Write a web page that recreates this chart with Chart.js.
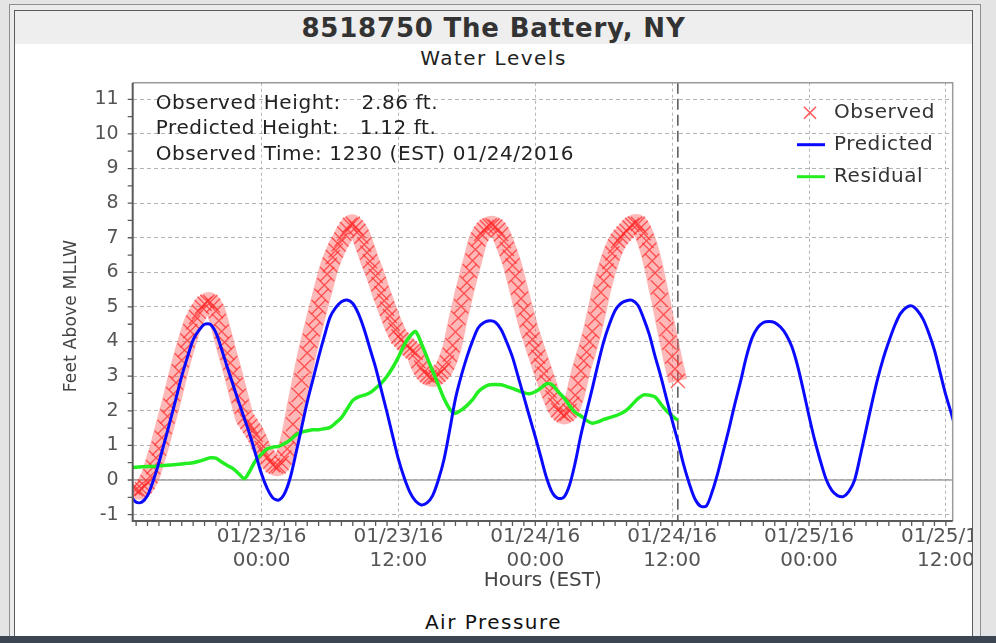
<!DOCTYPE html>
<html>
<head>
<meta charset="utf-8">
<title>8518750 The Battery, NY - Water Levels</title>
<script src="https://cdn.jsdelivr.net/npm/chart.js@4/dist/chart.umd.min.js"></script>
<style>
  html, body { margin: 0; padding: 0; }
  body {
    width: 996px; height: 643px; position: relative; overflow: hidden;
    background: #e4e4e4; font-family: 'DejaVu Sans', sans-serif;
  }
  #frame { position: absolute; left: 9px; top: 4px; width: 972px; height: 645px;
           border: 1px solid #8e8e8e; background: #ebebeb; box-sizing: border-box; }
  #panel { position: absolute; left: 14px; top: 10px; width: 959px; height: 627px;
           border: 1px solid #5c5c5c; background: #fff; box-sizing: border-box; }
  #titleBand { position: absolute; left: 15px; top: 11px; width: 957px; height: 33px; background: #eeeeee; }
  .txt { position: absolute; left: 15px; width: 957px; text-align: center; white-space: nowrap; }
  #title { top: 11px; height: 34px; line-height: 34px; font-size: 26px; font-weight: bold;
           letter-spacing: 0.8px; color: #333; }
  #subtitle { top: 46px; line-height: 24px; font-size: 20px; letter-spacing: 1.5px; color: #222; }
  #nextTitle { top: 610px; line-height: 24px; font-size: 20px; letter-spacing: 1.5px; color: #111; }
  #bottomBar { position: absolute; left: 0; top: 636px; width: 996px; height: 7px; background: #3c4552; }
  #chartBox { position: absolute; left: 0; top: 0; width: 972px; height: 600px; }
</style>
</head>
<body>
<div id="frame"></div>
<div id="panel"></div>
<div id="titleBand"></div>
<div class="txt" id="title">8518750 The Battery, NY</div>
<div class="txt" id="subtitle">Water Levels</div>
<div class="txt" id="nextTitle">Air Pressure</div>
<div id="bottomBar"></div>
<div id="chartBox"><canvas id="wl" width="972" height="600"></canvas></div>

<script>
// hours are counted from 01/23/16 00:00 EST
const xTickHours = [0, 12, 24, 36, 48, 60];
const xTickLabels = [
  ['01/23/16', '00:00'], ['01/23/16', '12:00'], ['01/24/16', '00:00'],
  ['01/24/16', '12:00'], ['01/25/16', '00:00'], ['01/25/16', '12:00']
];
const yTicks = [-1, 0, 1, 2, 3, 4, 5, 6, 7, 8, 9, 10, 11];

const nowHour = 36.5; // 1230 EST 01/24/2016
const infoLines = [
  'Observed Height:   2.86 ft.',
  'Predicted Height:   1.12 ft.',
  'Observed Time: 1230 (EST) 01/24/2016'
];

// predicted tide, every 30 min from hour -12
const predStart = -12, predStep = 0.5;
const predicted = [
  -0.15, -0.45, -0.64, -0.64, -0.45, -0.02, 0.50, 1.11, 1.72, 2.36,
  3.00, 3.55, 4.05, 4.32, 4.50, 4.50, 4.25, 3.77, 3.25, 2.75,
  2.25, 1.77, 1.28, 0.72, 0.17, -0.25, -0.52, -0.58, -0.40, 0.05,
  0.75, 1.50, 2.25, 2.90, 3.55, 4.15, 4.70, 4.98, 5.15, 5.20,
  5.10, 4.80, 4.35, 3.80, 3.25, 2.60, 1.95, 1.27, 0.60, 0.07,
  -0.35, -0.61, -0.72, -0.66, -0.45, 0.00, 0.60, 1.45, 2.35, 3.00,
  3.55, 4.02, 4.40, 4.55, 4.60, 4.56, 4.35, 3.98, 3.55, 2.98,
  2.40, 1.82, 1.25, 0.65, 0.05, -0.37, -0.53, -0.50, -0.15, 0.50,
  1.30, 1.98, 2.65, 3.35, 4.00, 4.50, 4.90, 5.10, 5.18, 5.19,
  5.05, 4.67, 4.20, 3.58, 3.00, 2.36, 1.72, 1.12, 0.45, -0.10,
  -0.55, -0.76, -0.75, -0.35, 0.20, 0.85, 1.50, 2.20, 2.85, 3.55,
  4.10, 4.40, 4.55, 4.58, 4.55, 4.42, 4.20, 3.85, 3.30, 2.60,
  1.85, 1.15, 0.55, 0.02, -0.30, -0.45, -0.48, -0.33, 0.00, 0.70,
  1.45, 2.20, 2.90, 3.50, 4.00, 4.45, 4.80, 4.98, 5.03, 4.90,
  4.65, 4.25, 3.75, 3.10, 2.45, 1.90, 1.30
];

// residual, every 30 min from hour -11.5
const resStart = -11.5, resStep = 0.5;
const residual = [
  0.36, 0.37, 0.38, 0.39, 0.39, 0.41, 0.42, 0.43, 0.45, 0.46,
  0.48, 0.50, 0.54, 0.59, 0.64, 0.63, 0.52, 0.42, 0.33, 0.18,
  0.04, 0.28, 0.58, 0.75, 0.90, 0.95, 0.97, 1.05, 1.15, 1.30,
  1.38, 1.42, 1.45, 1.45, 1.48, 1.52, 1.65, 1.80, 2.05, 2.30,
  2.40, 2.45, 2.52, 2.65, 2.80, 3.00, 3.25, 3.55, 3.90, 4.15,
  4.29, 3.95, 3.55, 3.15, 2.75, 2.35, 2.05, 1.93, 2.02, 2.15,
  2.32, 2.55, 2.68, 2.75, 2.76, 2.75, 2.70, 2.65, 2.58, 2.52,
  2.49, 2.55, 2.66, 2.78, 2.75, 2.55, 2.38, 2.15, 1.95, 1.85,
  1.72, 1.64, 1.68, 1.75, 1.80, 1.85, 1.92, 2.02, 2.18, 2.35,
  2.46, 2.45, 2.40, 2.20, 2.00, 1.85, 1.73
];

// observed water level, every 15 min from hour -11.25
const obsStart = -11.25, obsStep = 0.25;
const observed = [
  -0.22, -0.27, -0.30, -0.26, -0.18, -0.06, 0.11, 0.37, 0.64, 0.91,
  1.22, 1.53, 1.84, 2.15, 2.48, 2.81, 3.14, 3.46, 3.75, 4.03,
  4.30, 4.55, 4.71, 4.86, 5.00, 5.09, 5.15, 5.14, 5.04, 4.88,
  4.60, 4.29, 3.98, 3.67, 3.38, 3.08, 2.76, 2.43, 2.12, 1.81,
  1.68, 1.56, 1.43, 1.30, 1.11, 0.92, 0.77, 0.65, 0.53, 0.43,
  0.39, 0.39, 0.49, 0.65, 0.90, 1.20, 1.61, 2.05, 2.46, 2.88,
  3.28, 3.67, 4.02, 4.35, 4.68, 5.00, 5.32, 5.63, 5.95, 6.22,
  6.44, 6.63, 6.81, 6.95, 7.12, 7.25, 7.37, 7.40, 7.30, 7.20,
  7.03, 6.80, 6.57, 6.32, 6.12, 5.90, 5.66, 5.40, 5.18, 4.95,
  4.74, 4.52, 4.34, 4.15, 4.06, 3.97, 3.87, 3.80, 3.72, 3.68,
  3.43, 3.25, 3.12, 3.03, 2.98, 2.96, 2.98, 3.04, 3.12, 3.22,
  3.40, 3.62, 3.89, 4.28, 4.68, 5.02, 5.39, 5.70, 6.04, 6.34,
  6.66, 6.95, 7.11, 7.23, 7.31, 7.35, 7.36, 7.32, 7.23, 7.10,
  6.90, 6.68, 6.45, 6.20, 5.89, 5.56, 5.24, 4.92, 4.62, 4.31,
  4.06, 3.80, 3.56, 3.31, 3.07, 2.83, 2.57, 2.38, 2.17, 2.02,
  1.93, 1.88, 1.91, 2.00, 2.20, 2.45, 2.80, 3.15, 3.44, 3.70,
  4.00, 4.29, 4.66, 5.03, 5.42, 5.75, 6.05, 6.30, 6.55, 6.75,
  6.91, 7.02, 7.12, 7.20, 7.30, 7.37, 7.41, 7.40, 7.29, 7.13,
  6.91, 6.65, 6.33, 5.98, 5.57, 5.20, 4.78, 4.36, 3.97, 3.57,
  3.21, 2.86
];

const toPoints = (vals, start, step) => vals.map((v, i) => ({ x: start + i * step, y: v }));

Chart.defaults.font.family = "'DejaVu Sans', sans-serif";

const decorPlugin = {
  id: 'decor',
  beforeDatasetsDraw(chart) {
    const { ctx, chartArea: a, scales: { x, y } } = chart;
    ctx.save();
    // zero reference line
    const y0 = y.getPixelForValue(0);
    ctx.strokeStyle = '#a0a0a0';
    ctx.lineWidth = 1.5;
    ctx.beginPath(); ctx.moveTo(a.left, y0); ctx.lineTo(a.right, y0); ctx.stroke();
    // current observation time
    const xn = x.getPixelForValue(nowHour);
    ctx.strokeStyle = '#555';
    ctx.lineWidth = 1.5;
    ctx.setLineDash([11, 5]);
    ctx.beginPath(); ctx.moveTo(xn, a.top); ctx.lineTo(xn, a.bottom); ctx.stroke();
    ctx.restore();
  },
  afterDraw(chart) {
    const { ctx, chartArea: a, scales: { x, y } } = chart;
    ctx.save();
    // plot frame
    ctx.strokeStyle = '#9a9a9a';
    ctx.lineWidth = 1.5;
    ctx.beginPath();
    ctx.moveTo(a.left, a.top); ctx.lineTo(a.right, a.top); ctx.lineTo(a.right, a.bottom);
    ctx.stroke();
    ctx.strokeStyle = '#5a5a5a';
    ctx.lineWidth = 2;
    ctx.beginPath();
    ctx.moveTo(a.left, a.top); ctx.lineTo(a.left, a.bottom); ctx.lineTo(a.right, a.bottom);
    ctx.stroke();

    // hourly ticks and half-foot ticks
    ctx.lineWidth = 1.3;
    ctx.beginPath();
    for (let h = Math.ceil(x.min); h <= x.max; h++) {
      const px = x.getPixelForValue(h);
      ctx.moveTo(px, a.bottom); ctx.lineTo(px, a.bottom + 5);
    }
    for (let v = -1; v <= y.max; v += 0.5) {
      const py = y.getPixelForValue(v);
      ctx.moveTo(a.left - 5, py); ctx.lineTo(a.left, py);
    }
    ctx.stroke();

    // y axis title
    ctx.save();
    ctx.translate(72, 316);
    ctx.rotate(-Math.PI / 2);
    ctx.font = "17px 'DejaVu Sans'";
    ctx.letterSpacing = '0.2px';
    ctx.fillStyle = '#444';
    ctx.textAlign = 'center';
    ctx.textBaseline = 'middle';
    ctx.fillText('Feet Above MLLW', 0, 0);
    ctx.restore();

    // info block
    ctx.font = "20px 'DejaVu Sans'";
    ctx.letterSpacing = '0.6px';
    ctx.fillStyle = '#222';
    ctx.textAlign = 'left';
    ctx.textBaseline = 'middle';
    infoLines.forEach((t, i) => ctx.fillText(t, a.left + 23, a.top + 21 + i * 25.5));

    // legend
    const order = ['Observed', 'Predicted', 'Residual'];
    order.forEach((name, i) => {
      const ds = chart.data.datasets.find(d => d.label === name);
      const ly = a.top + 30 + i * 32;
      if (name === 'Observed') {
        ctx.strokeStyle = 'rgba(255, 60, 60, 0.85)';
        ctx.lineWidth = 1.6;
        ctx.beginPath();
        ctx.moveTo(804, ly - 6); ctx.lineTo(816, ly + 6);
        ctx.moveTo(816, ly - 6); ctx.lineTo(804, ly + 6);
        ctx.stroke();
      } else {
        ctx.strokeStyle = ds.borderColor;
        ctx.lineWidth = 3;
        ctx.beginPath(); ctx.moveTo(797, ly); ctx.lineTo(825, ly); ctx.stroke();
      }
      ctx.fillStyle = '#333';
      ctx.fillText(name, 834, ly);
    });
    ctx.restore();
  }
};

new Chart(document.getElementById('wl'), {
  type: 'line',
  data: {
    datasets: [
      {
        label: 'Predicted',
        data: toPoints(predicted, predStart, predStep),
        borderColor: '#0a0aff',
        borderWidth: 3,
        pointRadius: 0,
        tension: 0.3,
        fill: false
      },
      {
        label: 'Residual',
        data: toPoints(residual, resStart, resStep),
        borderColor: '#22ee22',
        borderWidth: 3.5,
        pointRadius: 0,
        tension: 0.3,
        fill: false
      },
      {
        label: 'Observed',
        data: toPoints(observed, obsStart, obsStep),
        showLine: true,
        borderColor: 'rgba(255, 85, 85, 0.42)',
        borderWidth: 19,
        tension: 0.3,
        fill: false,
        pointStyle: 'crossRot',
        pointRadius: 10,
        pointBorderWidth: 1.4,
        pointBorderColor: 'rgba(255, 45, 45, 0.72)',
        pointBackgroundColor: 'rgba(255, 45, 45, 0.72)'
      }
    ]
  },
  options: {
    responsive: false,
    animation: false,
    devicePixelRatio: 1,
    events: [],
    layout: { padding: { left: 0, top: 82.7, right: 19.3, bottom: 0 } },
    plugins: { legend: { display: false }, tooltip: { enabled: false } },
    scales: {
      x: {
        type: 'linear',
        min: -11.3,
        max: 60.6,
        afterBuildTicks: s => { s.ticks = xTickHours.map(v => ({ value: v })); },
        afterFit: s => { s.height = 79; s.paddingLeft = 0; s.paddingRight = 0; },
        ticks: {
          callback: v => xTickLabels[xTickHours.indexOf(v)],
          font: { size: 20 },
          color: '#555',
          padding: 4,
          maxRotation: 0,
          autoSkip: false
        },
        grid: { color: '#b4b4b4', lineWidth: 1, drawTicks: false },
        border: { display: false, dash: [3, 3] },
        title: {
          display: true,
          text: 'Hours (EST)',
          font: { size: 20 },
          color: '#444',
          padding: { top: 0, bottom: 7.5 }
        }
      },
      y: {
        type: 'linear',
        min: -1.185,
        max: 11.48,
        afterBuildTicks: s => { s.ticks = yTicks.map(v => ({ value: v })); },
        afterFit: s => { s.width = 132.7; s.paddingTop = 0; s.paddingBottom = 0; },
        ticks: { font: { size: 19 }, color: '#555', padding: 14 },
        grid: { color: '#b4b4b4', lineWidth: 1, drawTicks: false },
        border: { display: false, dash: [4, 3] }
      }
    }
  },
  plugins: [decorPlugin]
});
</script>
</body>
</html>
